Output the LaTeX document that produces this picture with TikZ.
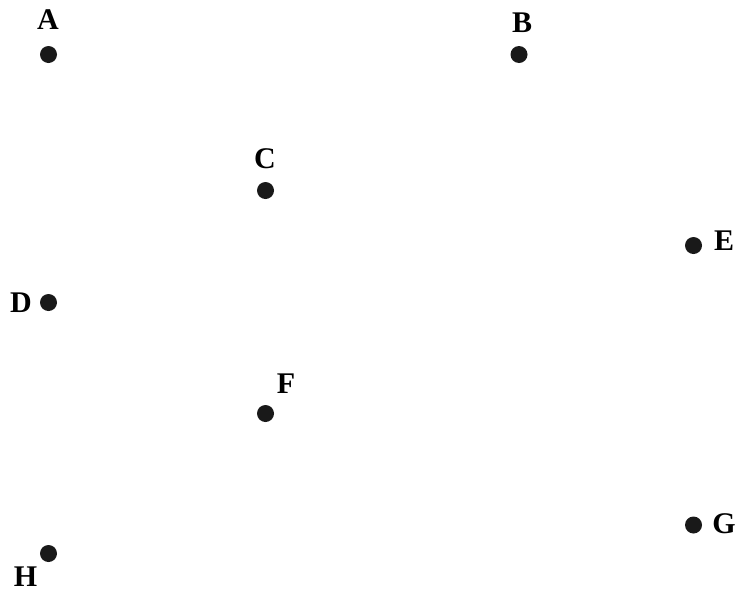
\documentclass[tikz,border=0pt]{standalone}
\usepackage{fontspec}
\setmainfont{Liberation Serif}
\begin{document}
\begin{tikzpicture}[x=1pt,y=-1pt,
  dot/.style={circle,fill=black!90,inner sep=0pt,minimum size=17pt},
  lab/.style={inner sep=0pt,font=\fontsize{30}{32}\selectfont\bfseries}]
\useasboundingbox (0,0) rectangle (738,595);
\node[dot] (a) at (48.5,54.5) {};
\node[dot] (b) at (519,54.5) {};
\node[dot] (c) at (265.5,190.5) {};
\node[dot] (e) at (693.5,245.5) {};
\node[dot] (d) at (48.5,302.5) {};
\node[dot] (f) at (265.5,413.5) {};
\node[dot] (g) at (693.5,525) {};
\node[dot] (h) at (48.5,553.5) {};
\node[lab] (la) at (48,20) {A};
\node[lab] (lb) at (522,22.5) {B};
\node[lab] (lc) at (265,159) {C};
\node[lab] (le) at (724,241) {E};
\node[lab] (ld) at (21,303) {D};
\node[lab] (lf) at (286,384) {F};
\node[lab] (lg) at (724,524) {G};
\node[lab] (lh) at (25.5,577) {H};
\end{tikzpicture}
\end{document}
